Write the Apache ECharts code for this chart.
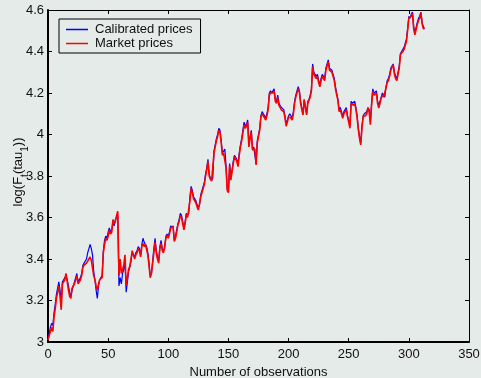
<!DOCTYPE html>
<html><head><meta charset="utf-8">
<script src="https://cdn.jsdelivr.net/npm/echarts@6/dist/echarts.min.js"></script>
<style>html,body{margin:0;padding:0;background:#e5ebe8}#c{width:481px;height:378px}</style>
</head><body><div id="c"></div>
<script>
const seriesNames = ['Calibrated prices', 'Market prices'];
const xTicks = [0, 50, 100, 150, 200, 250, 300, 350];
const yTicks = [3, 3.2, 3.4, 3.6, 3.8, 4, 4.2, 4.4, 4.6];

const market = [
3.01,3.03,3.05,3.07,3.05,3.12,3.16,3.21,3.24,3.27,
3.22,3.155,3.28,3.29,3.30,3.33,3.29,3.25,3.22,3.21,
3.26,3.27,3.28,3.30,3.32,3.28,3.29,3.30,3.32,3.36,
3.37,3.375,3.38,3.39,3.40,3.41,3.395,3.39,3.32,3.30,
3.27,3.25,3.28,3.30,3.30,3.31,3.43,3.47,3.50,3.49,
3.51,3.54,3.52,3.53,3.59,3.57,3.58,3.61,3.63,3.32,
3.40,3.33,3.35,3.37,3.42,3.27,3.31,3.35,3.365,3.40,
3.44,3.42,3.40,3.42,3.43,3.45,3.44,3.41,3.46,3.475,
3.46,3.47,3.465,3.42,3.365,3.31,3.33,3.38,3.43,3.48,
3.43,3.40,3.38,3.45,3.475,3.44,3.43,3.435,3.50,3.515,
3.50,3.52,3.55,3.545,3.555,3.485,3.50,3.53,3.565,3.58,
3.61,3.60,3.57,3.54,3.57,3.615,3.60,3.605,3.68,3.74,
3.72,3.69,3.68,3.67,3.65,3.636,3.645,3.70,3.72,3.74,
3.76,3.80,3.83,3.87,3.80,3.785,3.775,3.78,3.91,3.94,
3.97,3.99,4.02,4.01,3.96,3.90,3.91,3.915,3.84,3.73,
3.72,3.85,3.78,3.82,3.86,3.893,3.89,3.87,3.845,3.90,
3.94,3.97,4.006,4.046,4.03,4.04,4.06,3.94,3.98,4.01,
3.925,3.93,3.93,3.853,3.96,3.99,4.02,4.086,4.10,4.09,
4.08,4.07,4.09,4.12,4.19,4.20,4.195,4.20,4.21,4.16,
4.15,4.18,4.14,4.13,4.118,4.125,4.11,4.08,4.04,4.06,
4.085,4.086,4.08,4.07,4.10,4.15,4.18,4.20,4.22,4.205,
4.15,4.12,4.094,4.166,4.166,4.094,4.15,4.165,4.18,4.21,
4.327,4.29,4.287,4.27,4.28,4.25,4.23,4.26,4.28,4.27,
4.26,4.31,4.33,4.35,4.31,4.31,4.30,4.28,4.26,4.22,
4.19,4.166,4.11,4.12,4.10,4.078,4.10,4.11,4.12,4.085,
4.06,4.03,4.15,4.145,4.14,4.15,4.12,4.08,4.023,3.98,
3.95,4.03,4.087,4.09,4.09,4.10,4.128,4.11,4.047,4.14,
4.208,4.19,4.19,4.20,4.15,4.128,4.15,4.175,4.19,4.18,
4.175,4.224,4.25,4.26,4.28,4.31,4.325,4.336,4.29,4.27,
4.26,4.26,4.32,4.385,4.39,4.40,4.41,4.43,4.449,4.505,
4.56,4.56,4.57,4.585,4.51,4.48,4.48,4.53,4.55,4.56,
4.587,4.535,4.51,4.51
];

const calibrated = [
3.01,3.04,3.07,3.09,3.08,3.14,3.18,3.23,3.26,3.29,
3.25,3.19,3.29,3.30,3.31,3.32,3.30,3.27,3.24,3.22,
3.25,3.27,3.29,3.31,3.33,3.29,3.29,3.31,3.33,3.37,
3.38,3.38,3.40,3.43,3.45,3.47,3.45,3.42,3.34,3.30,
3.25,3.21,3.27,3.30,3.31,3.32,3.44,3.49,3.51,3.50,
3.53,3.55,3.53,3.54,3.58,3.56,3.59,3.60,3.61,3.27,
3.31,3.28,3.33,3.35,3.39,3.24,3.29,3.34,3.36,3.39,
3.43,3.42,3.41,3.43,3.44,3.46,3.45,3.42,3.47,3.50,
3.48,3.47,3.46,3.43,3.38,3.32,3.33,3.39,3.45,3.50,
3.44,3.41,3.39,3.46,3.49,3.45,3.44,3.45,3.51,3.52,
3.51,3.53,3.56,3.55,3.56,3.49,3.51,3.54,3.57,3.59,
3.62,3.61,3.58,3.55,3.58,3.62,3.61,3.62,3.70,3.75,
3.73,3.70,3.69,3.68,3.66,3.65,3.66,3.71,3.73,3.75,
3.77,3.81,3.84,3.88,3.81,3.79,3.78,3.79,3.92,3.95,
3.98,4.00,4.03,4.02,3.97,3.91,3.92,3.93,3.85,3.74,
3.73,3.86,3.79,3.83,3.87,3.90,3.90,3.88,3.86,3.91,
3.95,3.98,4.02,4.06,4.04,4.05,4.07,3.95,3.99,4.02,
3.93,3.94,3.94,3.86,3.97,4.00,4.03,4.09,4.11,4.10,
4.09,4.08,4.10,4.13,4.20,4.21,4.20,4.21,4.22,4.17,
4.16,4.19,4.15,4.14,4.13,4.13,4.12,4.09,4.05,4.07,
4.09,4.10,4.09,4.08,4.11,4.16,4.19,4.21,4.23,4.21,
4.16,4.13,4.10,4.17,4.17,4.10,4.16,4.17,4.19,4.22,
4.34,4.30,4.29,4.28,4.29,4.26,4.24,4.27,4.29,4.28,
4.27,4.32,4.34,4.36,4.32,4.32,4.31,4.29,4.27,4.23,
4.20,4.17,4.12,4.13,4.11,4.09,4.11,4.12,4.13,4.09,
4.07,4.04,4.16,4.15,4.15,4.16,4.13,4.09,4.03,3.99,
3.96,4.04,4.09,4.10,4.10,4.11,4.13,4.12,4.06,4.15,
4.22,4.20,4.20,4.21,4.16,4.14,4.16,4.18,4.20,4.19,
4.18,4.23,4.26,4.27,4.29,4.32,4.33,4.34,4.30,4.28,
4.27,4.27,4.33,4.39,4.40,4.41,4.42,4.44,4.46,4.51,
4.57,4.56,4.58,4.59,4.52,4.49,4.49,4.54,4.56,4.57,
4.59,4.54,4.52,4.51
];

const FONT = '"Liberation Sans", Arial, Helvetica, sans-serif';
const TXT = '#111';
const FS = 13;
const xMin = xTicks[0], xMax = xTicks[xTicks.length - 1], xInt = xTicks[1] - xTicks[0];
const yMin = yTicks[0], yMax = yTicks[yTicks.length - 1], yInt = 0.2;

function xAx(pos, main) {
  return {
    type: 'value', position: pos, min: xMin, max: xMax, interval: xInt,
    axisLine: { onZero: false, lineStyle: { color: '#000', width: main ? 2 : 1 } },
    axisTick: { inside: true, length: 4, lineStyle: { color: '#000', width: 1 } },
    axisLabel: { show: main, color: TXT, fontSize: FS, fontFamily: FONT, margin: 6 },
    splitLine: { show: false },
    name: main ? 'Number of observations' : '',
    nameLocation: 'middle', nameGap: 22,
    nameTextStyle: { color: TXT, fontSize: FS, fontFamily: FONT }
  };
}
function yAx(pos, main) {
  return {
    type: 'value', position: pos, min: yMin, max: yMax, interval: yInt,
    axisLine: { onZero: false, lineStyle: { color: '#000', width: main ? 2 : 1 } },
    axisTick: { inside: true, length: 4, lineStyle: { color: '#000', width: 1 } },
    axisLabel: { show: main, color: TXT, fontSize: FS, fontFamily: FONT, margin: 4 },
    splitLine: { show: false },
    name: main ? 'log(F{sub|t}(tau{sub|1}))' : '',
    nameLocation: 'middle', nameGap: 18, nameRotate: 90, nameMoveOverlap: false,
    nameTextStyle: {
      color: TXT, fontSize: FS, fontFamily: FONT, lineHeight: 24,
      padding: [0, 0, 0, 8],
      rich: { sub: { fontSize: 10, fontFamily: FONT, color: TXT, lineHeight: 10, padding: [8, 0, 0, 0], verticalAlign: 'bottom' } }
    }
  };
}

const chart = echarts.init(document.getElementById('c'), null, { renderer: 'canvas' });
chart.setOption({
  backgroundColor: '#e5ebe8',
  animation: false,
  grid: { left: 48, right: 12, top: 10, bottom: 36, containLabel: false, outerBoundsMode: 'none' },
  legend: {
    data: seriesNames, orient: 'vertical', left: 59, top: 19,
    icon: 'rect', itemWidth: 22, itemHeight: 1.5, itemGap: 1,
    padding: [4, 8, 3, 7],
    borderColor: '#000', borderWidth: 1, backgroundColor: 'transparent',
    textStyle: { color: TXT, fontSize: FS, fontFamily: FONT, padding: [0, 0, 0, 2] }
  },
  xAxis: [xAx('bottom', true), xAx('top', false)],
  yAxis: [yAx('left', true), yAx('right', false)],
  series: [
    { name: seriesNames[0], type: 'line', xAxisIndex: 0, yAxisIndex: 0, symbol: 'none',
      lineStyle: { color: '#0000ff', width: 1.2 }, itemStyle: { color: '#0000ff' },
      data: calibrated.map((v, i) => [i, v]) },
    { name: seriesNames[1], type: 'line', xAxisIndex: 0, yAxisIndex: 0, symbol: 'none',
      lineStyle: { color: '#ff0000', width: 1.6 }, itemStyle: { color: '#ff0000' },
      data: market.map((v, i) => [i, v]) }
  ]
});
</script></body></html>
